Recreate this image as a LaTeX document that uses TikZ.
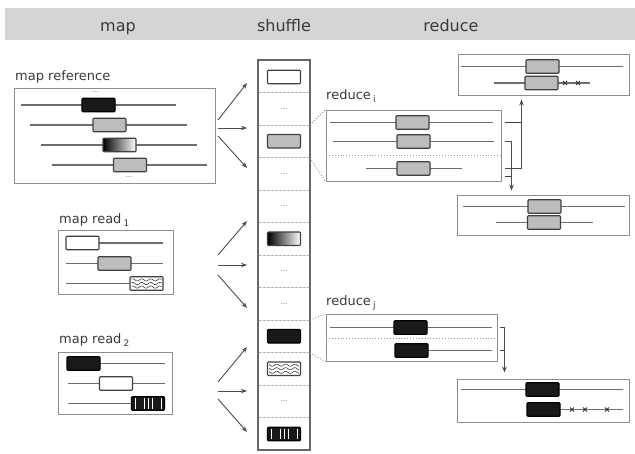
\documentclass[tikz,border=0pt]{standalone}
\usepackage{fontspec}
\setmainfont{DejaVu Sans}
\usetikzlibrary{arrows.meta,calc}
\definecolor{txt}{HTML}{3A3A3A}
\definecolor{band}{HTML}{D5D5D7}
\definecolor{frm}{HTML}{8E8E8E}
\definecolor{rl}{HTML}{6E6E6E}
\definecolor{gf}{HTML}{BDBDBD}
\definecolor{bd}{HTML}{404040}
\newcommand\subsc[1]{\raisebox{-3.5pt}{\fontsize{9}{9}\selectfont #1}}
\newcommand\wavesat[2]{%
  \foreach \dy in {-3.6,0,3.6}{
    \draw[black!80, line width=0.55pt] plot[domain=#1-15:#1+15, samples=40, smooth] (\x,{#2+\dy+1.1*sin(40*\x)});}}
\newcommand\barsin[1]{%
  \foreach \f in {0.12,0.38,0.5,0.62,0.88}{
    \draw[white, line width=0.7pt] ($(#1.north west)!\f!(#1.north east)+(0,2)$) -- ($(#1.south west)!\f!(#1.south east)+(0,-2)$);}}
\newcommand\crossat[2]{\draw[black!80, line width=0.8pt] (#1-2,#2-2) -- (#1+2,#2+2) (#1-2,#2+2) -- (#1+2,#2-2);}
\begin{document}
\begin{tikzpicture}[x=1pt,y=-1pt,
 frame/.style={draw=frm, line width=1pt, inner sep=0, fill=white},
 readln/.style={draw=rl, line width=1.5pt},
 feat/.style={minimum width=33pt, minimum height=13.5pt, inner sep=0, draw=bd, line width=1.1pt, rounded corners=0.8pt},
 gbox/.style={feat, fill=gf},
 bbox/.style={feat, fill=black!90, draw=black},
 wbox/.style={feat, fill=white},
 grbox/.style={feat, left color=black, right color=white},
 arr/.style={draw=black!70, line width=0.9pt, -{Stealth[length=6pt,width=4.5pt]}},
 link/.style={draw=black!75, line width=0.8pt},
 zoomln/.style={draw=gray!90, line width=0.9pt, dotted},
 sep/.style={draw=gray!60, line width=0.9pt, dash pattern=on 2.5pt off 1.5pt},
 lbl/.style={text=txt, font=\fontsize{13}{13}\selectfont, inner sep=0, anchor=base west},
 hdr/.style={text=txt, font=\fontsize{16}{16}\selectfont, inner sep=0, anchor=base},
 dots/.style={text=black!60, font=\fontsize{7}{7}\selectfont, inner sep=0},
]
\useasboundingbox (0,0) rectangle (635,453);
% header band
\fill[band] (5,8) rectangle (635,40);
\node[hdr] (hmap) at (118,31) {map};
\node[hdr] (hshuf) at (284,31) {shuffle};
\node[hdr] (hred) at (451,31) {reduce};

% ---------- map reference ----------
\node[lbl] (lref) at (15,80) {map reference};
\node[frame, minimum width=201, minimum height=95] (mref) at (114.5,135.5) {};
\draw[readln] (21,105) -- (176,105);
\draw[readln] (30,125) -- (187,125);
\draw[readln] (41,145) -- (197,145);
\draw[readln] (52,165) -- (207,165);
\node[bbox] (f1) at (98.5,105) {};
\node[gbox] (f2) at (109.5,125) {};
\node[grbox] (f3) at (119.5,145) {};
\node[gbox] (f4) at (130,165) {};
\node[dots] (d1) at (95,92) {...};
\node[dots] (d2) at (129,177) {...};

% ---------- map read 1 ----------
\node[lbl] (lr1) at (59,223) {map read\,\subsc{1}};
\node[frame, minimum width=115, minimum height=64] (mr1) at (115.5,262) {};
\draw[readln] (99,243) -- (163,243);
\draw[readln] (66,263.5) -- (163,263.5);
\draw[readln] (66,283.5) -- (130,283.5);
\node[wbox] (g1) at (82.5,243) {};
\node[gbox] (g2) at (114.5,263.5) {};
\node[wbox] (g3) at (146.5,283.5) {};
\wavesat{146.5}{283.5}

% ---------- map read 2 ----------
\node[lbl] (lr2) at (59,343) {map read\,\subsc{2}};
\node[frame, minimum width=114, minimum height=62] (mr2) at (115,383) {};
\draw[readln] (100,363.5) -- (165,363.5);
\draw[readln] (68,383.5) -- (165,383.5);
\draw[readln] (68,403.5) -- (131,403.5);
\node[bbox] (h1) at (83.5,363.5) {};
\node[wbox] (h2) at (116,383.5) {};
\node[bbox] (h3) at (148,403.5) {};
\barsin{h3}

% ---------- shuffle column ----------
\node[frame, minimum width=52, minimum height=390, line width=1.3pt, draw=black!60] (shuf) at (284,255) {};
\foreach \k in {1,...,11}{ \draw[sep] (259,60+32.5*\k) -- (309,60+32.5*\k); }
\node[wbox] (s1) at (284,77) {};
\node[dots] (s2) at (284,108.75) {...};
\node[gbox] (s3) at (284,141.25) {};
\node[dots] (s4) at (284,173.75) {...};
\node[dots] (s5) at (284,206.25) {...};
\node[grbox] (s6) at (284,238.75) {};
\node[dots] (s7) at (284,271.25) {...};
\node[dots] (s8) at (284,303.75) {...};
\node[bbox] (s9) at (284,336.25) {};
\node[wbox] (s10) at (284,368.75) {};
\wavesat{284}{368.75}
\node[dots] (s11) at (284,401.25) {...};
\node[bbox] (s12) at (284,434) {};
\barsin{s12}

% ---------- arrows map -> shuffle ----------
\coordinate (ra) at (218,120); \coordinate (rb) at (218,128); \coordinate (rc) at (218,136);
\coordinate (ta) at (247,83);  \coordinate (tb) at (247,128); \coordinate (tc) at (247,168);
\draw[arr] (ra) -- (ta); \draw[arr] (rb) -- (tb); \draw[arr] (rc) -- (tc);
\coordinate (pa) at (218,255); \coordinate (pb) at (218,265); \coordinate (pc) at (218,275);
\coordinate (ua) at (247,221); \coordinate (ub) at (247,265); \coordinate (uc) at (247,308);
\draw[arr] (pa) -- (ua); \draw[arr] (pb) -- (ub); \draw[arr] (pc) -- (uc);
\coordinate (qa) at (218,382); \coordinate (qb) at (218,391); \coordinate (qc) at (218,399);
\coordinate (va) at (247,347); \coordinate (vb) at (247,391); \coordinate (vc) at (247,432);
\draw[arr] (qa) -- (va); \draw[arr] (qb) -- (vb); \draw[arr] (qc) -- (vc);

% ---------- reduce i ----------
\node[lbl] (lri) at (326,99) {reduce\,\subsc{i}};
\node[frame, minimum width=175, minimum height=71] (redi) at (413.5,145.5) {};
\draw[readln] (330,122.5) -- (493,122.5);
\draw[readln] (333,141.5) -- (494,141.5);
\draw[readln] (366,168.5) -- (462,168.5);
\draw[draw=gray!80, line width=0.9pt, dotted] (326,155) -- (501,155);
\node[gbox] (i1) at (412.5,122.5) {};
\node[gbox] (i2) at (413.5,141.5) {};
\node[gbox] (i3) at (413.5,168.5) {};
\coordinate (zi1) at (310,125); \coordinate (zi2) at (310,158);
\draw[zoomln] (zi1) -- (redi.north west);
\draw[zoomln] (zi2) -- (redi.south west);

% ---------- reduce j ----------
\node[lbl] (lrj) at (326,305) {reduce\,\subsc{j}};
\node[frame, minimum width=171, minimum height=47] (redj) at (411.5,337.5) {};
\draw[readln] (330,327.5) -- (492,327.5);
\draw[readln] (428,350.5) -- (492,350.5);
\draw[draw=gray!80, line width=0.9pt, dotted] (326,338.5) -- (497,338.5);
\node[bbox] (j1) at (410.5,327.5) {};
\node[bbox] (j2) at (411.5,350.5) {};
\coordinate (zj1) at (310,320); \coordinate (zj2) at (310,353);
\draw[zoomln] (zj1) -- (redj.north west);
\draw[zoomln] (zj2) -- (redj.south west);

% ---------- result boxes ----------
\node[frame, minimum width=171, minimum height=41] (rtop) at (543.5,74.5) {};
\draw[readln] (461,66.5) -- (623,66.5);
\draw[readln] (494,83) -- (590,83);
\node[gbox] (t1) at (542.5,66.5) {};
\node[gbox] (t2) at (541.5,83) {};
\crossat{565}{83}\crossat{578}{83}

\node[frame, minimum width=172, minimum height=40] (rmid) at (543,215) {};
\draw[readln] (463,206.5) -- (625,206.5);
\draw[readln] (496,222.5) -- (593,222.5);
\node[gbox] (m1) at (544.5,206.5) {};
\node[gbox] (m2) at (544,222.5) {};

\node[frame, minimum width=172, minimum height=43] (rbot) at (543,400.5) {};
\draw[readln] (461,389.5) -- (623,389.5);
\draw[readln] (543,409.5) -- (623,409.5);
\node[bbox] (n1) at (542.5,389.5) {};
\node[bbox] (n2) at (543.5,409.5) {};
\crossat{572}{409.5}\crossat{585}{409.5}\crossat{607}{409.5}

% ---------- reduce connectors ----------
\coordinate (a1) at (505,122.5); \coordinate (a2) at (505,141.5);
\coordinate (a3) at (505,168.5); \coordinate (a4) at (505,176);
\coordinate (upt) at ($(rtop.south west)+(64,4)$);
\coordinate (dnt) at ($(rmid.north west)+(55,-4)$);
\draw[link] (a1) -- (a1 -| upt);
\draw[arr] (a3) -| (upt);
\draw[arr] (a2) -| (dnt);
\draw[link] (a4) -- (a4 -| dnt);

\coordinate (b1) at (500,327.5); \coordinate (b2) at (500,350.5);
\coordinate (dnj) at ($(rbot.north west)+(48,-6)$);
\draw[arr] (b1) -| (dnj);
\draw[link] (b2) -- (b2 -| dnj);
\end{tikzpicture}
\end{document}
